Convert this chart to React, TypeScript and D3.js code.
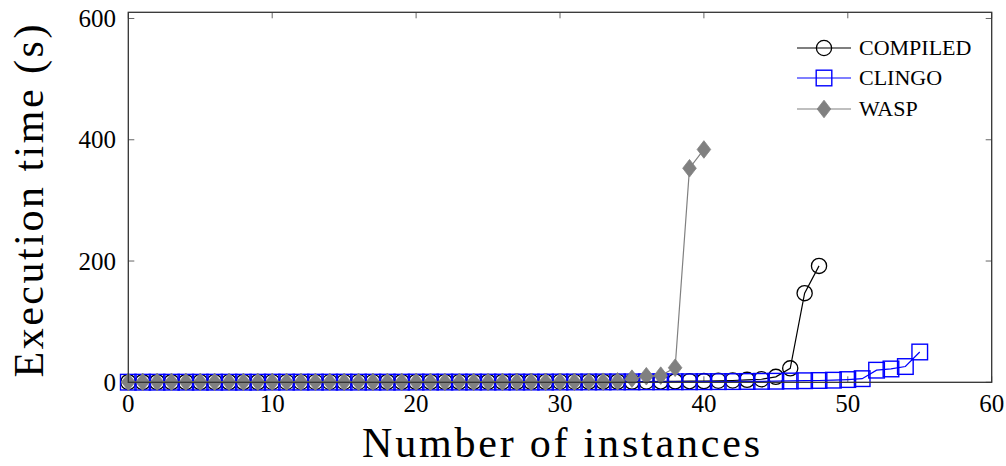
import React from "react";
import * as d3 from "d3";

const compiled = [0.3,0.3,0.3,0.3,0.3,0.4,0.4,0.4,0.4,0.4,0.5,0.5,0.5,0.5,0.5,0.5,0.5,0.5,0.6,0.6,0.6,0.6,0.6,0.7,0.7,0.7,0.7,0.8,0.8,0.8,0.9,0.9,1.0,1.0,1.1,1.2,1.3,1.4,1.6,1.8,2.0,2.5,3.0,4,5,9,23,147,192];
const clingo = [0.2,0.2,0.2,0.2,0.2,0.2,0.2,0.2,0.2,0.2,0.3,0.3,0.3,0.3,0.3,0.3,0.3,0.3,0.3,0.3,0.4,0.4,0.4,0.4,0.4,0.4,0.4,0.4,0.4,0.4,0.5,0.5,0.6,0.6,0.7,0.7,0.8,0.8,0.9,0.9,1.0,1.1,1.2,1.4,1.6,1.8,2.2,2.6,3.0,3.5,4.5,6,20,22,26,50];
const wasp = [0.5,0.5,0.5,0.5,0.5,0.5,0.5,0.5,0.5,0.5,0.5,0.5,0.5,0.5,0.5,0.5,0.5,0.5,0.5,0.5,0.5,0.5,0.5,0.5,0.5,0.5,0.5,0.5,0.6,0.6,0.7,0.7,0.8,1,1.5,6,10,11,24,353,384];
const seriesNames = ["COMPILED", "CLINGO", "WASP"];
const xTicks = [0, 10, 20, 30, 40, 50, 60];
const yTicks = [0, 200, 400, 600];
const xLabel = "Number of instances";
const yLabel = "Execution time (s)";

const FONT = '"Liberation Serif"';

export default function App() {
  const left = 128.3, right = 991.7, top = 12.3, bottom = 382.3;
  const x = d3.scaleLinear().domain([0, 60]).range([left, right]);
  const y = d3.scaleLinear().domain([0, 610.2]).range([bottom, top]);
  const line = d3.line<number>().x((_, i) => x(i)).y((d) => y(d));

  const circle = (cx: number, cy: number, k: string) => (
    <circle key={k} cx={cx} cy={cy} r={7.6} fill="none" stroke="#000" strokeWidth={1.3} />
  );
  const square = (cx: number, cy: number, k: string) => (
    <rect key={k} x={cx - 7.8} y={cy - 7.8} width={15.6} height={15.6} fill="none" stroke="#0000ff" strokeWidth={1.4} />
  );
  const diamond = (cx: number, cy: number, k: string) => (
    <path key={k} d={`M${cx},${cy - 8.8}L${cx + 6.8},${cy}L${cx},${cy + 8.8}L${cx - 6.8},${cy}Z`} fill="#808080" stroke="#808080" strokeWidth={0.8} />
  );

  const series = [
    { name: seriesNames[0], data: compiled, color: "#000", marker: circle, lw: 1.2 },
    { name: seriesNames[1], data: clingo, color: "#0000ff", marker: square, lw: 1.2 },
    { name: seriesNames[2], data: wasp, color: "#808080", marker: diamond, lw: 1.2 },
  ];

  const legY = [48, 78, 109];
  const tickLen = 6;
  const txt = { fontFamily: FONT } as React.CSSProperties;

  return (
    <svg width={1006} height={466} style={{ position: "absolute", left: 0, top: 0, background: "#fff" }}>
      <rect x={0} y={0} width={1006} height={466} fill="#fff" />
      {xTicks.map((t) => (
        <g key={"xt" + t}>
          <line x1={x(t)} x2={x(t)} y1={bottom} y2={bottom - tickLen} stroke="#666" strokeWidth={1} />
          <line x1={x(t)} x2={x(t)} y1={top} y2={top + tickLen} stroke="#666" strokeWidth={1} />
          <text x={x(t)} y={411.5} textAnchor="middle" fontSize={25} fill="#000" style={txt}>{t}</text>
        </g>
      ))}
      {yTicks.map((t) => (
        <g key={"yt" + t}>
          <line x1={left} x2={left + tickLen} y1={y(t)} y2={y(t)} stroke="#666" strokeWidth={1} />
          <line x1={right} x2={right - tickLen} y1={y(t)} y2={y(t)} stroke="#666" strokeWidth={1} />
          <text x={116} y={y(t) + 8.5} textAnchor="end" fontSize={25} fill="#000" style={txt}>{t}</text>
        </g>
      ))}
      {series.map((s) => (
        <g key={s.name}>
          <path d={line(s.data) || ""} fill="none" stroke={s.color} strokeWidth={s.lw} />
          {s.data.map((d, i) => s.marker(x(i), y(d), s.name + i))}
        </g>
      ))}
      <rect x={left} y={top} width={right - left} height={bottom - top} fill="none" stroke="#333" strokeWidth={1.3} />
      {series.map((s, i) => (
        <g key={"leg" + s.name}>
          <line x1={797} x2={851} y1={legY[i]} y2={legY[i]} stroke={s.color} strokeWidth={s.lw} />
          {s.marker(824, legY[i], "lm" + i)}
          <text x={859} y={legY[i] + 7} fontSize={22} fill="#000" style={txt}>{s.name}</text>
        </g>
      ))}
      <text x={561} y={456.5} textAnchor="middle" fontSize={42} fill="#000" textLength={398} lengthAdjust="spacing" style={txt}>{xLabel}</text>
      <text transform={`translate(43,201) rotate(-90)`} textAnchor="middle" fontSize={42} fill="#000" textLength={353} lengthAdjust="spacing" style={txt}>{yLabel}</text>
    </svg>
  );
}
